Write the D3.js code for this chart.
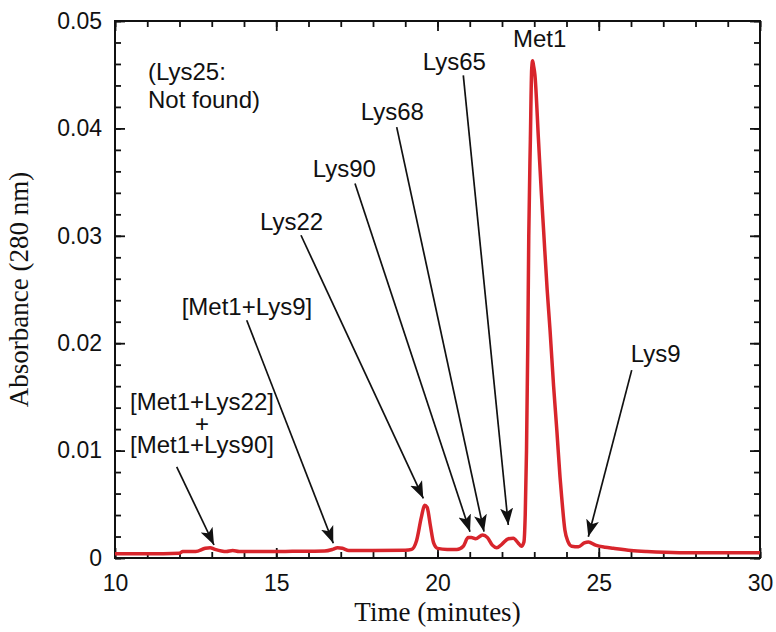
<!DOCTYPE html>
<html>
<head>
<meta charset="utf-8">
<script src="https://cdn.jsdelivr.net/npm/d3@7/dist/d3.min.js"></script>
<style>
  body { margin: 0; background: #fff; }
  svg { display: block; }
</style>
</head>
<body>
<svg id="chart" width="776" height="632"></svg>
<script>
// ---- Data ----
const timeMin = [10.0, 11.0, 12.0, 12.1, 12.5, 12.8, 12.95, 13.1, 13.3, 13.45, 13.65, 13.85, 14.5, 15.5, 16.5, 16.75, 16.9, 17.05, 17.25, 18.0, 19.0, 19.2, 19.35, 19.5, 19.6, 19.68, 19.78, 19.88, 20.0, 20.3, 20.6, 20.8, 20.95, 21.05, 21.18, 21.4, 21.55, 21.7, 21.84, 22.0, 22.2, 22.35, 22.5, 22.6, 22.68, 22.72, 22.76, 22.8, 22.83, 22.88, 22.92, 22.95, 22.98, 23.02, 23.13, 23.22, 23.29, 23.4, 23.49, 23.6, 23.7, 23.8, 23.85, 23.95, 24.05, 24.16, 24.37, 24.55, 24.68, 24.9, 25.2, 25.45, 26.0, 26.49, 27.5, 30.0];
const absorbance = [0.0004, 0.0004, 0.00045, 0.0006, 0.0006, 0.0009, 0.00095, 0.0008, 0.00065, 0.0006, 0.0007, 0.0006, 0.0006, 0.00062, 0.00065, 0.0008, 0.00095, 0.0009, 0.0007, 0.0007, 0.00072, 0.0008, 0.0016, 0.0038, 0.0049, 0.0047, 0.003, 0.0014, 0.0009, 0.0008, 0.0008, 0.0011, 0.0019, 0.0019, 0.0018, 0.00215, 0.0019, 0.0012, 0.00095, 0.0013, 0.0018, 0.00185, 0.0014, 0.0011, 0.0015, 0.004, 0.01, 0.02, 0.03, 0.039, 0.0455, 0.0463, 0.0458, 0.045, 0.039, 0.034, 0.0305, 0.025, 0.0212, 0.016, 0.0119, 0.0075, 0.0057, 0.0026, 0.0015, 0.0011, 0.00105, 0.0014, 0.0015, 0.0012, 0.001, 0.0009, 0.0007, 0.0006, 0.0005, 0.0005];

const xTickValues = [10, 15, 20, 25, 30];
const xTickLabels = ["10", "15", "20", "25", "30"];
const yTickValues = [0, 0.01, 0.02, 0.03, 0.04, 0.05];
const yTickLabels = ["0", "0.01", "0.02", "0.03", "0.04", "0.05"];

// Annotations: label text, label anchor (time, absorbance), arrow tail and tip (time, absorbance)
const annLabels = ["Met1", "Lys65", "Lys68", "Lys90", "Lys22", "[Met1+Lys9]", "Lys9"];
const annLabelT = [22.341, 19.541, 17.619, 16.13, 14.496, 12.068, 25.99];
const annLabelV = [0.04756, 0.0454, 0.04074, 0.03547, 0.03051, 0.0226, 0.01826];
const arrowTailT = [null, 20.8, 18.735, 17.442, 15.767, 14.084, 26.022];
const arrowTailV = [null, 0.04493, 0.04012, 0.03486, 0.03005, 0.02214, 0.01749];
const arrowTipT = [null, 22.195, 21.442, 21.008, 19.56, 16.769, 24.676];
const arrowTipV = [null, 0.00307, 0.00245, 0.00245, 0.00555, 0.00137, 0.00198];

const comboLines = ["[Met1+Lys22]", "+", "[Met1+Lys90]"];
const comboT = 12.698;
const comboV = [0.01377, 0.01172, 0.00977];
const comboTail = [11.913, 0.00849];
const comboTip = [13.07, 0.00121];

const noteLines = ["(Lys25:", "Not found)"];
const noteT = 11.023;
const noteV = [0.04447, 0.04186];

// ---- Layout ----
const svg = d3.select("#chart");
const L = 115, R = 760, T = 21, B = 558;
const x = d3.scaleLinear().domain([10, 30]).range([L, R]);
const y = d3.scaleLinear().domain([0, 0.05]).range([B, T]);
const sans = "'Liberation Sans', Arial, Helvetica, sans-serif";
const serif = "'Liberation Serif', 'Times New Roman', Times, serif";

svg.append("rect").attr("width", 776).attr("height", 632).attr("fill", "#fff");

const defs = svg.append("defs");
defs.append("marker")
  .attr("id", "ah")
  .attr("viewBox", "0 -7 18 14")
  .attr("markerUnits", "userSpaceOnUse")
  .attr("markerWidth", 18).attr("markerHeight", 14)
  .attr("refX", 17).attr("refY", 0)
  .attr("orient", "auto")
  .append("path")
  .attr("d", "M0,-6.5 L17,0 L0,6.5 L4,0 Z")
  .attr("fill", "#111");

// minor ticks
const xMinor = d3.range(10, 30.001, 1);
const yMinor = d3.range(0, 0.05001, 0.002);

function styleAxis(g) {
  g.select(".domain").remove();
  g.selectAll("line").attr("stroke", "#111").attr("stroke-width", 1.8);
  g.selectAll("text").attr("fill", "#111").attr("font-family", sans).attr("font-size", 23);
}

svg.append("g").attr("transform", `translate(0,${B})`)
  .call(d3.axisBottom(x).tickValues(xMinor).tickSize(-6).tickFormat(""))
  .call(styleAxis);
svg.append("g").attr("transform", `translate(0,${B})`)
  .call(d3.axisBottom(x).tickValues(xTickValues).tickSize(-10).tickPadding(17)
    .tickFormat((d, i) => xTickLabels[i]))
  .call(styleAxis);
svg.append("g").attr("transform", `translate(0,${T})`)
  .call(d3.axisTop(x).tickValues(xMinor).tickSize(-6).tickFormat(""))
  .call(styleAxis);
svg.append("g").attr("transform", `translate(0,${T})`)
  .call(d3.axisTop(x).tickValues(xTickValues).tickSize(-10).tickFormat(""))
  .call(styleAxis);

svg.append("g").attr("transform", `translate(${L},0)`)
  .call(d3.axisLeft(y).tickValues(yMinor).tickSize(-6).tickFormat(""))
  .call(styleAxis);
svg.append("g").attr("transform", `translate(${L},0)`)
  .call(d3.axisLeft(y).tickValues(yTickValues).tickSize(-10).tickPadding(13)
    .tickFormat((d, i) => yTickLabels[i]))
  .call(styleAxis);
svg.append("g").attr("transform", `translate(${R},0)`)
  .call(d3.axisRight(y).tickValues(yMinor).tickSize(-6).tickFormat(""))
  .call(styleAxis);
svg.append("g").attr("transform", `translate(${R},0)`)
  .call(d3.axisRight(y).tickValues(yTickValues).tickSize(-10).tickFormat(""))
  .call(styleAxis);

// frame
svg.append("rect").attr("x", L).attr("y", T).attr("width", R - L).attr("height", B - T)
  .attr("fill", "none").attr("stroke", "#111").attr("stroke-width", 2);

// curve
const pts = timeMin.map((t, i) => [t, absorbance[i]]);
svg.append("path")
  .datum(pts)
  .attr("fill", "none")
  .attr("stroke", "#d8252c")
  .attr("stroke-width", 3.5)
  .attr("stroke-linejoin", "round")
  .attr("d", d3.line().x(d => x(d[0])).y(d => y(d[1])).curve(d3.curveMonotoneX));

// annotations
const ann = svg.append("g").attr("font-family", sans).attr("font-size", 24).attr("fill", "#111");
annLabels.forEach((lab, i) => {
  ann.append("text").attr("x", x(annLabelT[i])).attr("y", y(annLabelV[i])).text(lab);
  if (arrowTailT[i] !== null) {
    ann.append("line")
      .attr("x1", x(arrowTailT[i])).attr("y1", y(arrowTailV[i]))
      .attr("x2", x(arrowTipT[i])).attr("y2", y(arrowTipV[i]))
      .attr("stroke", "#111").attr("stroke-width", 1.7)
      .attr("marker-end", "url(#ah)");
  }
});
comboLines.forEach((lab, i) => {
  ann.append("text").attr("x", x(comboT)).attr("y", y(comboV[i]))
    .attr("text-anchor", "middle").text(lab);
});
ann.append("line")
  .attr("x1", x(comboTail[0])).attr("y1", y(comboTail[1]))
  .attr("x2", x(comboTip[0])).attr("y2", y(comboTip[1]))
  .attr("stroke", "#111").attr("stroke-width", 1.7)
  .attr("marker-end", "url(#ah)");
noteLines.forEach((lab, i) => {
  ann.append("text").attr("x", x(noteT)).attr("y", y(noteV[i])).text(lab);
});

// axis titles
svg.append("text")
  .attr("x", (L + R) / 2).attr("y", 621)
  .attr("text-anchor", "middle")
  .attr("font-family", serif).attr("font-size", 27).attr("fill", "#111")
  .text("Time (minutes)");
svg.append("text")
  .attr("transform", `translate(28,${(T + B) / 2}) rotate(-90)`)
  .attr("text-anchor", "middle")
  .attr("font-family", serif).attr("font-size", 27).attr("fill", "#111")
  .text("Absorbance (280 nm)");
</script>
</body>
</html>
